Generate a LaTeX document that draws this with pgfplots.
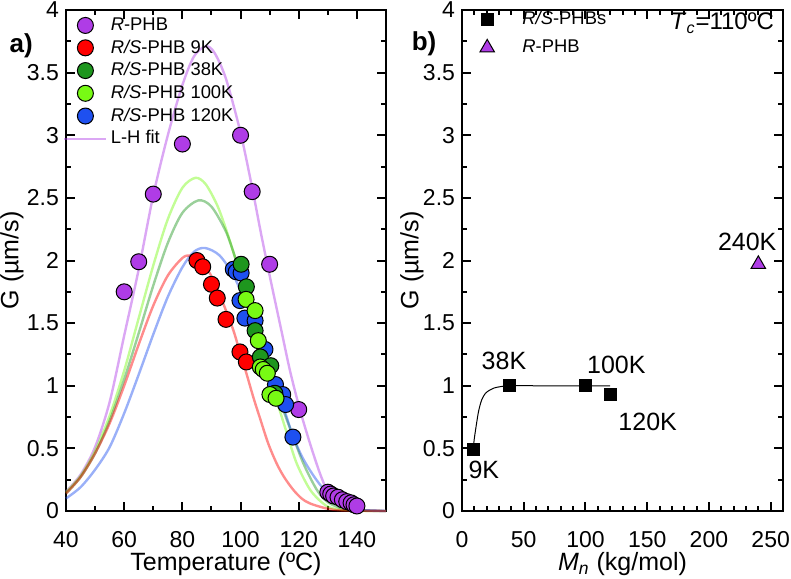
\documentclass[border=0pt]{standalone}
\usepackage{fontspec}
\setmainfont{Liberation Sans}
\usepackage{pgfplots}
\pgfplotsset{compat=1.18}
\definecolor{cpur}{RGB}{175,60,230}
\definecolor{cred}{RGB}{255,0,0}
\definecolor{cdg}{RGB}{30,150,30}
\definecolor{clg}{RGB}{120,250,20}
\definecolor{cblu}{RGB}{30,80,240}
\pgfplotsset{
 myaxis/.style={
  scale only axis, height=250.5pt,
  axis line style={line width=1.3pt},
  tick align=inside,
  major tick length=4.5pt, minor tick length=2.5pt,
  every tick/.style={line width=1pt, black},
  tick label style={font=\fontsize{11.5}{13}\selectfont},
  xticklabel style={yshift=-6.5pt},
  /pgf/number format/assume math mode=true,
  label style={font=\fontsize{12.5}{15}\selectfont},
  ymin=0, ymax=4, ytick={0,0.5,1,1.5,2,2.5,3,3.5,4}, minor y tick num=1,
  xlabel style={at={(axis description cs:0.5,-0.106)}, anchor=center},
  clip=false,
 },
 fitline/.style={no marks, smooth, line width=1.2pt, opacity=0.45, forget plot},
 dot/.style={only marks, mark=*, mark size=4pt, mark options={fill=#1, draw=black, line width=0.5pt}, forget plot},
}
\begin{document}
\begin{tikzpicture}
\useasboundingbox (-33pt,-33.5pt) rectangle (362.5pt,255.5pt);
\begin{axis}[myaxis, width=160pt,
  xmin=40, xmax=150, xtick={40,60,80,100,120,140}, minor x tick num=1,
  xlabel={Temperature (ºC)}, ylabel={G (µm/s)},
  ylabel style={at={(axis description cs:-0.169,0.5)}, anchor=center},
  legend style={draw=none, fill=none, at={(0,1)}, anchor=north west, xshift=-1.6pt, yshift=-2pt,
    inner xsep=0pt, inner ysep=0pt, nodes={inner sep=1.6pt}, font=\fontsize{9.2}{11}\selectfont},
  legend cell align=left,
  legend image code/.code={\draw[mark repeat=2,mark phase=2,#1] plot coordinates {(0pt,0pt)(10.5pt,0pt)(21pt,0pt)};},
]
% L-H fits
\addplot[fitline, cpur] coordinates {(40,0.155)(45,0.29)(50,0.51)(55,0.87)(60,1.40)(65,1.93)(70,2.52)(75,3.0)(80,3.40)(84,3.63)(88,3.71)(91,3.66)(95,3.45)(100,3.02)(104,2.58)(107,2.22)(110,1.88)(114,1.445)(117,1.12)(120.4,0.81)(124,0.53)(127.3,0.30)(130.2,0.14)(133,0.07)(135.4,0.035)(140,0.01)(150,0)};
\addplot[fitline, clg] coordinates {(40,0.15)(45,0.28)(50,0.48)(55,0.76)(60,1.12)(65,1.54)(70,1.96)(75,2.33)(80,2.58)(84.5,2.66)(88,2.61)(92,2.44)(95,2.25)(98.7,1.98)(102,1.72)(105,1.47)(108,1.22)(111.8,0.93)(115.8,0.63)(119.3,0.38)(123.9,0.17)(128.4,0.06)(132,0.02)(140,0.003)(150,0)};
\addplot[fitline, cdg] coordinates {(40,0.14)(45,0.27)(50,0.46)(55,0.72)(60,1.05)(65,1.42)(70,1.80)(75,2.14)(80,2.38)(85.5,2.48)(90,2.43)(95,2.23)(98.5,2.0)(102,1.76)(105,1.53)(108,1.29)(111,1.06)(114,0.85)(117.5,0.63)(121.6,0.38)(126.2,0.17)(130,0.07)(135,0.02)(140,0.005)(150,0)};
\addplot[fitline, cblu] coordinates {(40,0.10)(45,0.19)(50,0.33)(55,0.51)(60,0.78)(65,1.09)(70,1.41)(75,1.71)(80,1.946)(84,2.07)(87.8,2.10)(92.8,2.04)(97.8,1.87)(102.8,1.6)(107.8,1.3)(112,1.02)(115,0.81)(118,0.6)(121,0.44)(124,0.32)(127,0.22)(130,0.14)(133,0.08)(137,0.03)(142,0.008)(150,0)};
\addplot[fitline, cred] coordinates {(40,0.14)(45,0.27)(50,0.46)(55,0.70)(60,1.0)(65,1.33)(70,1.64)(75,1.88)(80,2.02)(82.6,2.04)(85,2.02)(88,1.95)(91,1.83)(94,1.66)(97.5,1.445)(100,1.25)(102,1.1)(104.5,0.9)(106.7,0.74)(109.5,0.54)(112.4,0.38)(115,0.27)(118.1,0.17)(121,0.1)(123.9,0.06)(129.6,0.02)(135,0.005)(150,0)};
% data
\addplot[dot=cpur] coordinates {(60,1.75)(65,1.99)(70,2.53)(80,2.93)(100,3.0)(104,2.55)(110,1.97)(120,0.81)(130,0.15)(131,0.135)(132,0.12)(133.5,0.11)(135,0.09)(136.5,0.075)(138,0.065)(139,0.05)(140,0.04)};
\addplot[dot=cred] coordinates {(85,2.0)(87,1.95)(90,1.81)(92,1.70)(95,1.53)(99.8,1.27)(102,1.19)};
\addplot[dot=cblu] coordinates {(97.5,1.93)(98.5,1.91)(100.2,1.9)(99.8,1.68)(101.5,1.54)(105,1.52)(108.4,1.29)(112,1.01)(114.5,0.93)(115.5,0.85)(118,0.59)};
\addplot[dot=cdg] coordinates {(100.2,1.97)(102,1.79)(105,1.44)(106.8,1.23)(110.4,1.16)(111.8,0.94)};
\addplot[dot=clg] coordinates {(101.9,1.69)(105,1.6)(106.1,1.36)(106.8,1.15)(107.8,1.13)(109.2,1.10)(110.1,0.93)(112.2,0.90)};
% legend
\addlegendimage{only marks, mark=*, mark size=4pt, mark options={fill=cpur, draw=black, line width=0.5pt}}
\addlegendentry{\textit{R}-PHB}
\addlegendimage{only marks, mark=*, mark size=4pt, mark options={fill=cred, draw=black, line width=0.5pt}}
\addlegendentry{\textit{R/S}-PHB 9K}
\addlegendimage{only marks, mark=*, mark size=4pt, mark options={fill=cdg, draw=black, line width=0.5pt}}
\addlegendentry{\textit{R/S}-PHB 38K}
\addlegendimage{only marks, mark=*, mark size=4pt, mark options={fill=clg, draw=black, line width=0.5pt}}
\addlegendentry{\textit{R/S}-PHB 100K}
\addlegendimage{only marks, mark=*, mark size=4pt, mark options={fill=cblu, draw=black, line width=0.5pt}}
\addlegendentry{\textit{R/S}-PHB 120K}
\addlegendimage{no marks, cpur, opacity=0.45, line width=1.2pt}
\addlegendentry{L-H fit}
\node[font=\bfseries\fontsize{13}{15}\selectfont] at (axis description cs:-0.14,0.928) {a)};
\end{axis}
\begin{axis}[myaxis, width=160.5pt, at={(198pt,0pt)},
  xmin=0, xmax=260, xtick={0,50,100,150,200,250}, minor x tick num=4,
  xlabel={\textit{M}\textsubscript{\textit{n}} (kg/mol)}, ylabel={G (µm/s)},
  ylabel style={at={(axis description cs:-0.156,0.5)}, anchor=center},
  legend style={draw=none, fill=none, at={(0,1)}, anchor=north west, xshift=0.4pt, yshift=2.4pt,
    inner xsep=0pt, inner ysep=0pt, nodes={inner xsep=1.6pt, inner ysep=3pt}, font=\fontsize{9.2}{11}\selectfont},
  legend cell align=left,
  legend image code/.code={\path[draw=none,fill=none] (0pt,-1pt) rectangle (28pt,1pt);\draw[mark repeat=2,mark phase=2,#1] plot coordinates {(0pt,0pt)(12pt,0pt)(24pt,0pt)};},
]
\addplot[black, line width=0.5pt, smooth, no marks, forget plot] coordinates {(9,0.49)(10,0.58)(11.8,0.70)(13.5,0.80)(15.9,0.886)(19,0.94)(22.6,0.966)(26,0.982)(30.6,0.992)(38,1.0)(60,1.0)(100,1.0)(120,1.0)};
\addplot[only marks, mark=square*, mark size=3pt, mark options={fill=black, draw=black}, forget plot] coordinates {(9,0.49)(38,1.0)(100,1.0)(120,0.93)};
\addplot[only marks, mark=triangle*, mark size=4.2pt, mark options={fill=cpur, draw=black, line width=0.5pt}, forget plot] coordinates {(240,1.97)};
\addlegendimage{only marks, mark=square*, mark size=3pt, mark options={fill=black, draw=black}}
\addlegendentry{\textit{R/S}-PHBs}
\addlegendimage{only marks, mark=triangle*, mark size=4.2pt, mark options={fill=cpur, draw=black, line width=0.5pt}}
\addlegendentry{\textit{R}-PHB}
\node[font=\fontsize{12.5}{15}\selectfont] at (axis cs:17.7,0.33) {9K};
\node[font=\fontsize{12.5}{15}\selectfont] at (axis cs:34,1.2) {38K};
\node[font=\fontsize{12.5}{15}\selectfont] at (axis cs:125,1.17) {100K};
\node[font=\fontsize{12.5}{15}\selectfont] at (axis cs:150.4,0.71) {120K};
\node[font=\fontsize{12.5}{15}\selectfont] at (axis cs:231,2.15) {240K};
\node[font=\fontsize{12}{14}\selectfont, anchor=east] at ([xshift=-1pt,yshift=-6.5pt]rel axis cs:1,1) {\textit{T}\textsubscript{\textit{c}}=110ºC};
\node[font=\bfseries\fontsize{13}{15}\selectfont] at (axis description cs:-0.118,0.932) {b)};
\end{axis}
\end{tikzpicture}
\end{document}
